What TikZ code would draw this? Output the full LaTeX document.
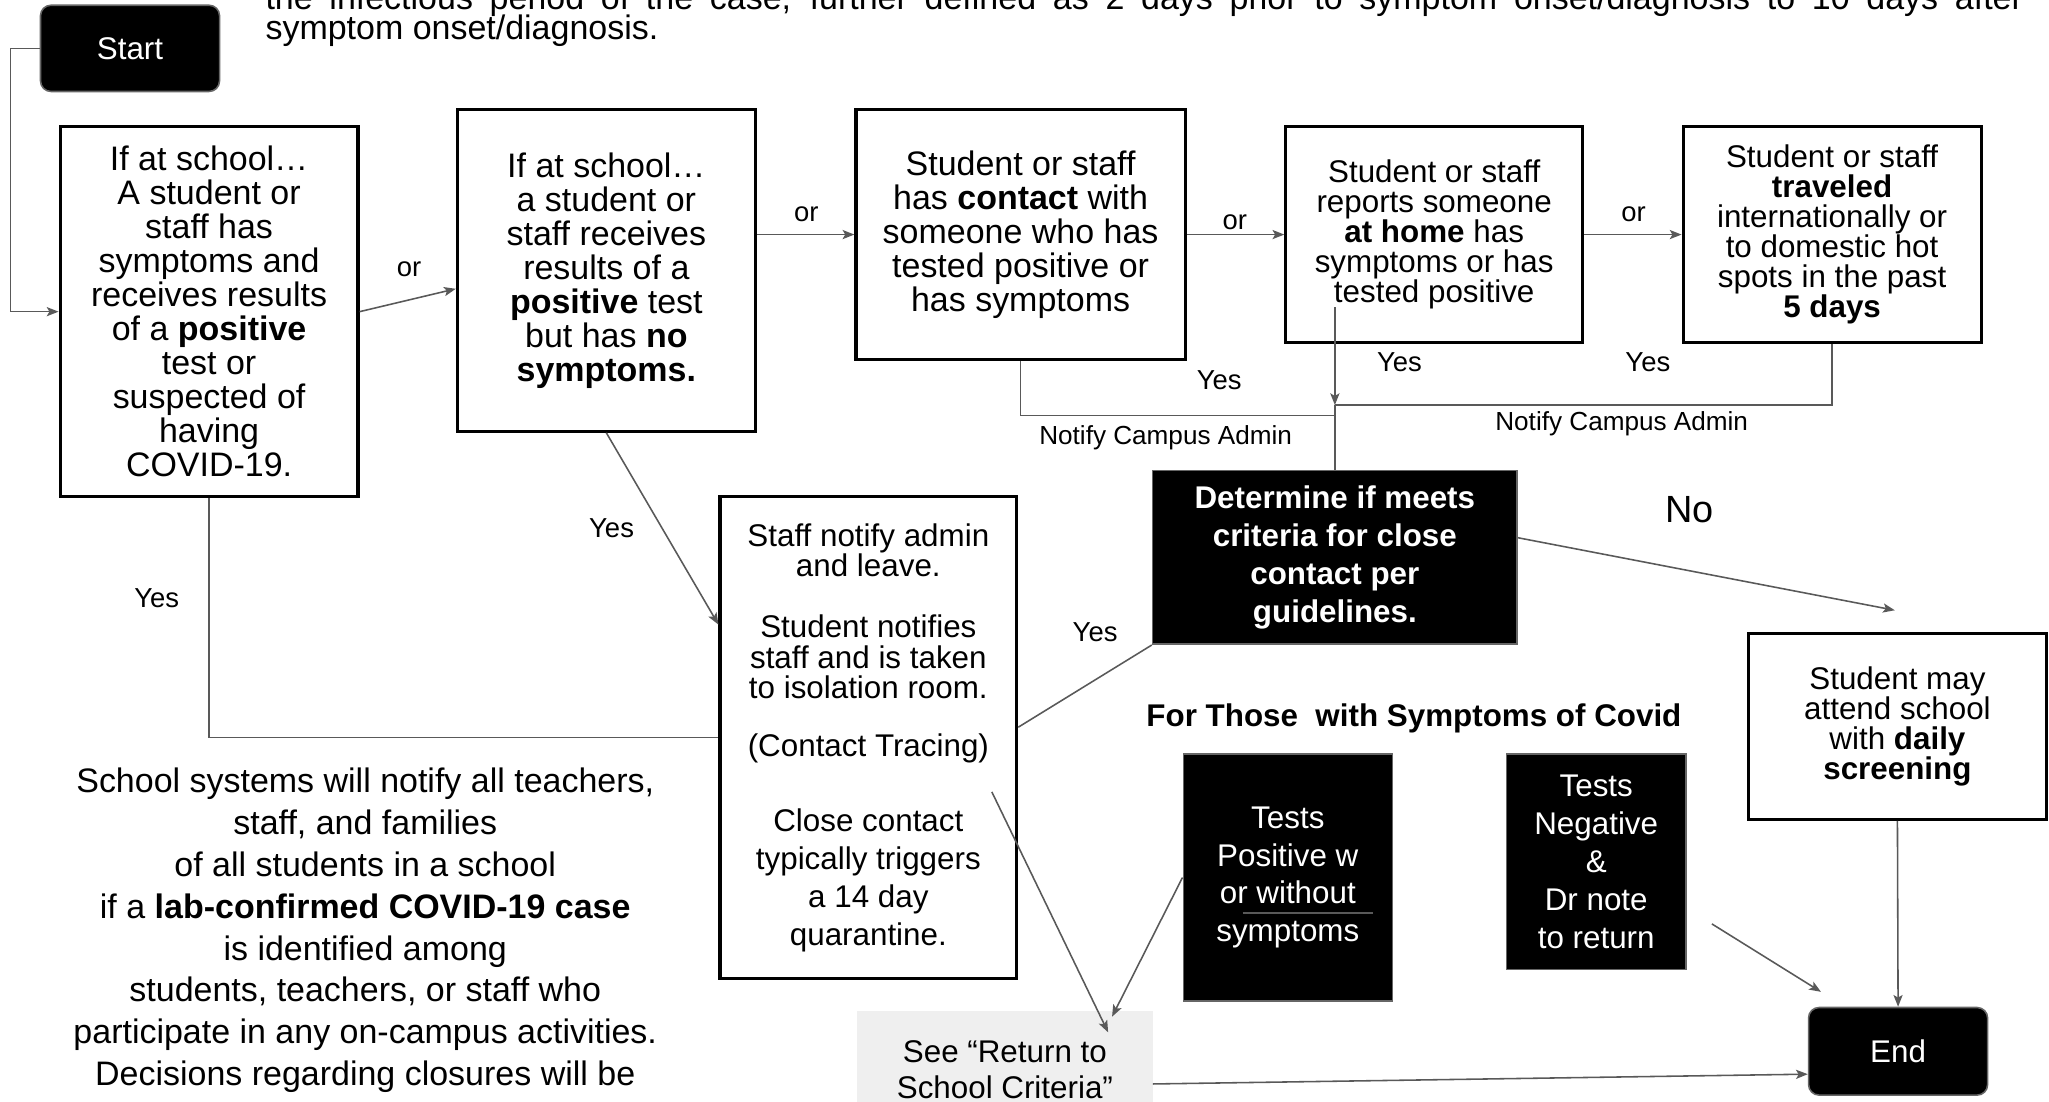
\documentclass[tikz,border=0pt]{standalone}
\usepackage{fontspec}
\setmainfont{Liberation Sans}
\usetikzlibrary{arrows.meta,calc}
\definecolor{ln}{HTML}{595959}
\definecolor{kborder}{HTML}{666666}
\definecolor{seefill}{HTML}{EFEFEF}
\newcommand\fsz[2]{\fontsize{#1}{#2}\selectfont}
\tikzset{
  wbox/.style={draw=black, line width=2.4pt, fill=white, align=center, inner sep=0pt},
  kbox/.style={draw=kborder, line width=1.2pt, fill=black, text=white, align=center, inner sep=0pt},
  rbox/.style={kbox, rounded corners=8pt},
  conn/.style={draw=ln, line width=1.2pt},
  arr/.style={conn, -{Stealth[length=9pt,width=7pt,inset=2pt]}},
  lbl/.style={font=\fsz{21}{21}, inner sep=0pt},
  nlbl/.style={font=\fsz{20}{20}, inner sep=0pt},
}
\begin{document}
\begin{tikzpicture}[x=1pt,y=-1pt]
\useasboundingbox (0,0) rectangle (1568,843.3);

% top paragraph (cut at the top)
\node[anchor=base west, inner sep=0pt, font=\fsz{26}{23}] (topa) at (203,7)
  {\makebox[1345pt][s]{the infectious period of the case, further defined as 2 days prior to symptom onset/diagnosis to 10 days after}};
\node[anchor=base west, inner sep=0pt, font=\fsz{26}{23}] (topb) at (203,30.5) {symptom onset/diagnosis.};

% start
\node[rbox, minimum width=137pt, minimum height=66pt, font=\fsz{24}{24}] (start) at (99.5,37) {Start};

% top row boxes
\node[wbox, minimum width=228pt, minimum height=283pt, font=\fsz{26}{26}] (b1) at (160,238.5)
  {If at school…\\A student or\\staff has\\symptoms and\\receives results\\of a \textbf{positive}\\test or\\suspected of\\having\\COVID-19.};
\node[wbox, minimum width=228pt, minimum height=246pt, font=\fsz{26}{26}] (b2) at (464,207)
  {If at school…\\a student or\\staff receives\\results of a\\\textbf{positive} test\\but has \textbf{no}\\\textbf{symptoms.}};
\node[wbox, minimum width=252pt, minimum height=191pt, font=\fsz{26}{26}] (b3) at (781,179.5)
  {Student or staff\\has \textbf{contact} with\\someone who has\\tested positive or\\has symptoms};
\node[wbox, minimum width=227pt, minimum height=165pt, font=\fsz{24}{23}] (b4) at (1097.5,179.5)
  {Student or staff\\reports someone\\\textbf{at home} has\\symptoms or has\\tested positive};
\node[wbox, minimum width=228pt, minimum height=165pt, font=\fsz{24}{23}] (b5) at (1402,179.5)
  {Student or staff\\\textbf{traveled}\\internationally or\\to domestic hot\\spots in the past\\\textbf{5 days}};

% middle
\node[kbox, minimum width=279pt, minimum height=133pt, font=\fsz{24}{29}\bfseries] (det) at (1021.5,426.5)
  {Determine if meets\\criteria for close\\contact per\\guidelines.};
\node[wbox, minimum width=228pt, minimum height=142pt, font=\fsz{24}{23}] (stud) at (1452,556)
  {Student may\\attend school\\with \textbf{daily}\\\textbf{screening}};
\node[wbox, minimum width=227pt, minimum height=369pt, font=\fsz{24}{23}] (staff) at (664.5,564.5)
  {Staff notify admin\\and leave.\\[24pt]Student notifies\\staff and is taken\\to isolation room.\\[22pt](Contact Tracing)\\[34pt]Close contact\\[6pt]typically triggers\\[6pt]a 14 day\\[6pt]quarantine.};

% bottom
\node[font=\fsz{24}{24}\bfseries, inner sep=0pt] (fortitle) at (1082,550) {For Those~ with Symptoms of Covid};
\node[kbox, minimum width=160pt, minimum height=189pt, font=\fsz{24}{29}] (tpos) at (985.5,671.5)
  {Tests\\Positive w\\or without\\symptoms};
\node[kbox, minimum width=137pt, minimum height=165pt, font=\fsz{24}{29}] (tneg) at (1221.5,659.5)
  {Tests\\Negative\\\&\\Dr note\\to return};
\node[rbox, minimum width=137pt, minimum height=67pt, font=\fsz{24}{24}] (end) at (1452.5,804.5) {End};
\node[fill=seefill, minimum width=226pt, minimum height=89pt, inner sep=0pt, align=center, font=\fsz{24}{27}] (seeret) at (769,818.5)
  {See “Return to\\School Criteria”};

\node[align=center, inner sep=0pt, font=\fsz{26}{32}] (note) at (279.5,712)
  {School systems will notify all teachers,\\staff, and families\\of all students in a school\\if a \textbf{lab-confirmed COVID-19 case}\\is identified among\\students, teachers, or staff who\\participate in any on-campus activities.\\Decisions regarding closures will be};

% labels
\node[lbl] (or1) at (313,206) {or};
\node[lbl] (or2) at (617,164) {or};
\node[lbl] (or3) at (945,170) {or};
\node[lbl] (or4) at (1250,164) {or};
\node[lbl] (y3) at (933,291) {Yes};
\node[lbl] (y4) at (1071,277) {Yes};
\node[lbl] (y5) at (1261,277) {Yes};
\node[nlbl] (na1) at (892,335) {Notify Campus Admin};
\node[nlbl] (na2) at (1241,324) {Notify Campus Admin};
\node[font=\fsz{29}{29}, inner sep=0pt] (no) at (1293,390) {No};
\node[lbl] (y2) at (468,404) {Yes};
\node[lbl] (y1) at (120,458) {Yes};
\node[lbl] (ydet) at (838,484) {Yes};

% coordinates
\coordinate (sl) at (8,37);
\coordinate (j0) at (1021.5,235);
\coordinate (j1) at (1021.5,310);
\coordinate (j2) at (1021.5,318);
\coordinate (noend) at (1450,467);
\coordinate (sa) at (759,606);
\coordinate (sb) at (848,790);
\coordinate (pa) at ($(tpos.west)+(0,0)$);
\coordinate (pb) at (851,778);
\coordinate (fa) at (1310,707);
\coordinate (fb) at (1393.5,759);
\coordinate (ula) at (951,698.5);
\coordinate (ulb) at (1051,698.5);

% connectors
\draw[arr] (start.west) -- (sl) |- (b1.west);
\draw[arr] (b1.east) -- ($(b2.west)+(0,14)$);
\draw[arr] (b2.east |- b3.west) -- (b3.west);
\draw[arr] (b3.east) -- (b4.west);
\draw[arr] (b4.east) -- (b5.west);
\draw[conn] (b3.south) |- (j2);
\draw[arr] (j0) -- (j1);
\draw[conn] (b5.south) |- (j1);
\draw[conn] (j1) -- (det.north);
\draw[arr] ($(det.east)+(0,-15)$) -- (noend);
\draw[arr] (stud.south) -- (end.north);
\draw[conn] (det.south west) -- ($(staff.east)+(0,-8)$);
\draw[arr] (b2.south) -- ($(staff.west)+(0,-86.5)$);
\draw[conn] (b1.south) |- (staff.west);
\draw[arr] (sa) -- (sb);
\draw[arr] (pa) -- (pb);
\draw[arr] (fa) -- (fb);
\draw[arr] ($(seeret.east)+(0,11)$) -- ($(end.west)+(0,17.5)$);
\draw[conn] (ula) -- (ulb);
\end{tikzpicture}
\end{document}
